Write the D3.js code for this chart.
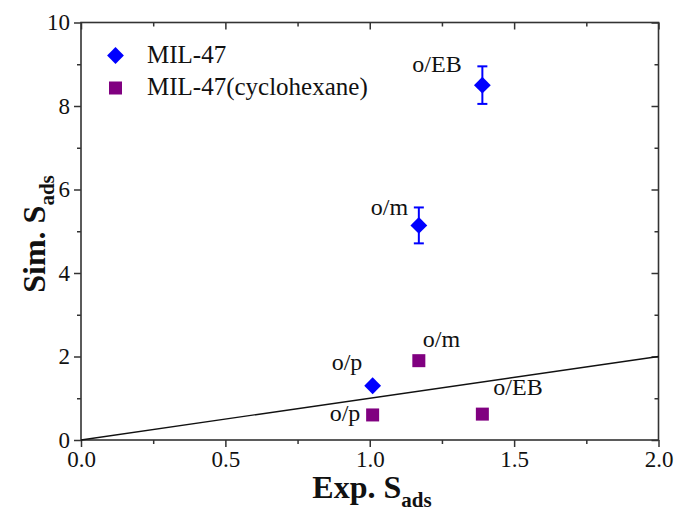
<!DOCTYPE html>
<html>
<head>
<meta charset="utf-8">
<script src="https://cdn.jsdelivr.net/npm/d3@7"></script>
<style>
  body { margin: 0; background: #fff; }
  svg text { font-family: "Liberation Serif", "Times New Roman", serif; }
</style>
</head>
<body>
<svg width="676" height="514"></svg>
<script>
// MIL-47 points (diamonds, with error bars)
var milPairs = ['o/p', 'o/m', 'o/EB'],
	milExp = [1.01, 1.17, 1.39],
	milSim = [1.30, 5.14, 8.50],
	milErr = [0, 0.43, 0.45]

// MIL-47(cyclohexane) points (squares)
var cycPairs = ['o/p', 'o/m', 'o/EB'],
	cycExp = [1.01, 1.17, 1.39],
	cycSim = [0.60, 1.90, 0.62]

var xTicks = [0, 0.5, 1.0, 1.5, 2.0],
	yTicks = [0, 2, 4, 6, 8, 10],
	xMinor = [0.25, 0.75, 1.25, 1.75],
	yMinor = [1, 3, 5, 7, 9],
	parity = [0, 2]

// label offsets (px) relative to each point
var milLabelPos = [[-41, -16], [-48, -10], [-70, -13]],
	cycLabelPos = [[-43, 6], [4, -14], [11, -19]]

draw()

function draw() {
	var svg = d3.select('svg'),
		pl = 81, pr = 658.5, pt = 22.5, pb = 440

	var x = d3.scaleLinear().domain([0, 2]).range([pl, pr]),
		y = d3.scaleLinear().domain([0, 10]).range([pb, pt])

	var axisColor = '#333'

	// axes: bottom/left ticks outward, top/right ticks inward
	function styleAxis(g) {
		g.select('.domain').remove()
		g.selectAll('line').attr('stroke', axisColor).attr('stroke-width', 1.5)
		g.selectAll('text').attr('font-size', 23).attr('fill', '#111')
			.attr('font-family', '"Liberation Serif", serif')
	}

	svg.append('g').attr('transform', 'translate(0,' + pb + ')')
		.call(d3.axisBottom(x).tickValues(xTicks).tickFormat(d3.format('.1f')).tickSize(7).tickPadding(4))
		.call(styleAxis)
	svg.append('g').attr('transform', 'translate(0,' + pb + ')')
		.call(d3.axisBottom(x).tickValues(xMinor).tickFormat('').tickSize(4))
		.call(styleAxis)
	svg.append('g').attr('transform', 'translate(' + pl + ',0)')
		.call(d3.axisLeft(y).tickValues(yTicks).tickFormat(d3.format('d')).tickSize(7).tickPadding(4))
		.call(styleAxis)
	svg.append('g').attr('transform', 'translate(' + pl + ',0)')
		.call(d3.axisLeft(y).tickValues(yMinor).tickFormat('').tickSize(4))
		.call(styleAxis)
	svg.append('g').attr('transform', 'translate(0,' + pt + ')')
		.call(d3.axisTop(x).tickValues(xTicks).tickFormat('').tickSize(-7))
		.call(styleAxis)
	svg.append('g').attr('transform', 'translate(0,' + pt + ')')
		.call(d3.axisTop(x).tickValues(xMinor).tickFormat('').tickSize(-4))
		.call(styleAxis)
	svg.append('g').attr('transform', 'translate(' + pr + ',0)')
		.call(d3.axisRight(y).tickValues(yTicks).tickFormat('').tickSize(-7))
		.call(styleAxis)
	svg.append('g').attr('transform', 'translate(' + pr + ',0)')
		.call(d3.axisRight(y).tickValues(yMinor).tickFormat('').tickSize(-4))
		.call(styleAxis)

	svg.append('rect')
		.attr('x', pl).attr('y', pt)
		.attr('width', pr - pl).attr('height', pb - pt)
		.attr('fill', 'none').attr('stroke', axisColor).attr('stroke-width', 1.6)

	// y = x reference line
	svg.append('line')
		.attr('x1', x(parity[0])).attr('y1', y(parity[0]))
		.attr('x2', x(parity[1])).attr('y2', y(parity[1]))
		.attr('stroke', '#111').attr('stroke-width', 1.3)

	var blue = '#0000ff', purple = '#800080'
	var diamond = d3.symbol().type(d3.symbolDiamond2).size(180)

	// error bars
	var errs = svg.append('g').attr('stroke', blue).attr('stroke-width', 2)
	milExp.forEach(function(e, i) {
		if(!milErr[i]) return
		var cx = x(e)
		errs.append('line').attr('x1', cx).attr('x2', cx)
			.attr('y1', y(milSim[i] - milErr[i])).attr('y2', y(milSim[i] + milErr[i]))
		;[-1, 1].forEach(function(s) {
			errs.append('line').attr('x1', cx - 5).attr('x2', cx + 5)
				.attr('y1', y(milSim[i] + s * milErr[i])).attr('y2', y(milSim[i] + s * milErr[i]))
		})
	})

	svg.append('g').selectAll('rect').data(cycExp).enter().append('rect')
		.attr('x', function(d) { return x(d) - 6.5 })
		.attr('y', function(d, i) { return y(cycSim[i]) - 6.5 })
		.attr('width', 13).attr('height', 13)
		.attr('fill', purple)

	svg.append('g').selectAll('path').data(milExp).enter().append('path')
		.attr('d', diamond)
		.attr('transform', function(d, i) { return 'translate(' + x(d) + ',' + y(milSim[i]) + ')' })
		.attr('fill', blue)

	// point labels
	function labels(pairs, xs, ys, pos) {
		svg.append('g').selectAll('text').data(pairs).enter().append('text')
			.attr('x', function(d, i) { return x(xs[i]) + pos[i][0] })
			.attr('y', function(d, i) { return y(ys[i]) + pos[i][1] })
			.attr('font-size', 24).attr('fill', '#111')
			.text(function(d) { return d })
	}
	labels(milPairs, milExp, milSim, milLabelPos)
	labels(cycPairs, cycExp, cycSim, cycLabelPos)

	// legend
	var legend = svg.append('g')
	legend.append('path').attr('d', diamond).attr('transform', 'translate(115.5,55.5)').attr('fill', blue)
	legend.append('rect').attr('x', 109).attr('y', 81.5).attr('width', 13).attr('height', 13).attr('fill', purple)
	legend.append('text').attr('x', 147).attr('y', 63).attr('font-size', 25).attr('fill', '#111').text('MIL-47')
	legend.append('text').attr('x', 147).attr('y', 95).attr('font-size', 25).attr('fill', '#111').text('MIL-47(cyclohexane)')

	// axis titles
	var xt = svg.append('text').attr('x', 372).attr('y', 498)
		.attr('text-anchor', 'middle').attr('font-size', 32).attr('font-weight', 'bold').attr('fill', '#111')
	xt.append('tspan').text('Exp. S')
	xt.append('tspan').attr('font-size', 21).attr('dy', 9).text('ads')

	var yt = svg.append('text').attr('transform', 'translate(45,234) rotate(-90)')
		.attr('text-anchor', 'middle').attr('font-size', 32).attr('font-weight', 'bold').attr('fill', '#111')
	yt.append('tspan').text('Sim. S')
	yt.append('tspan').attr('font-size', 21).attr('dy', 9).text('ads')
}
</script>
</body>
</html>
